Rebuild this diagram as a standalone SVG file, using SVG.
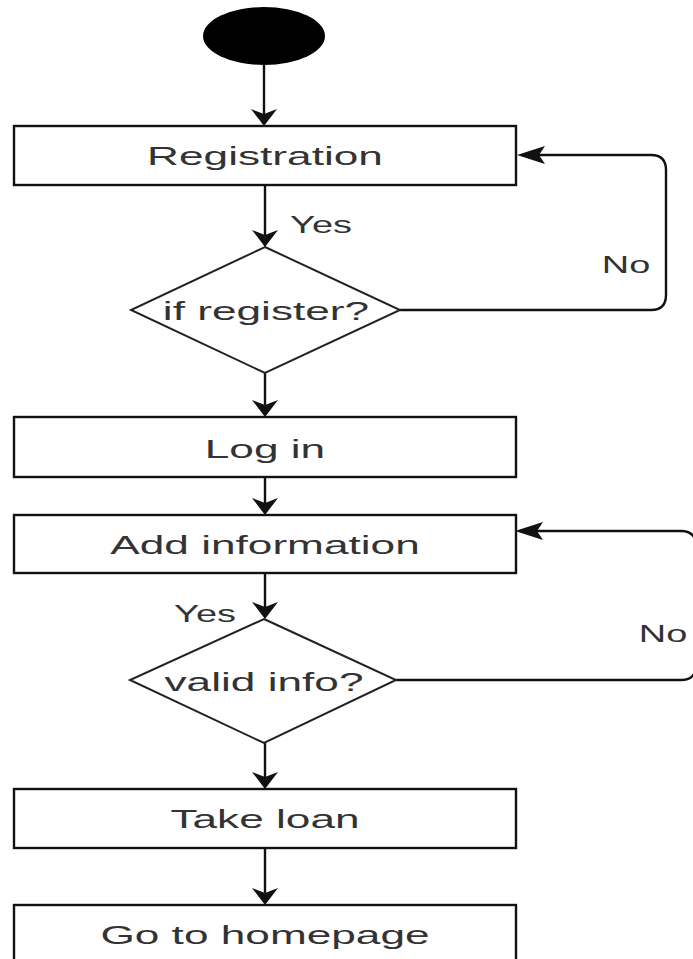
<svg xmlns="http://www.w3.org/2000/svg" xmlns:xlink="http://www.w3.org/1999/xlink" width="693" height="959" viewBox="0 0 693 959">
  <style>
    .box { fill: #ffffff; stroke: #111111; stroke-width: 2.4; }
    .dec { fill: #ffffff; stroke: #222222; stroke-width: 2; }
    .edge { fill: none; stroke: #111111; stroke-width: 2.4; }
    .head { fill: #111111; stroke: none; }
    .t { font-family: "Liberation Sans", Arial, sans-serif; font-size: 26px; fill: #333333; text-anchor: middle; }
    .lbl { font-family: "Liberation Sans", Arial, sans-serif; font-size: 23px; fill: #333333; text-anchor: middle; }
  </style>
  <defs>
    <!-- arrowheads, tip at the origin -->
    <path id="ah-down" class="head" d="M0,0 L-13,-17 L0,-12 L13,-17 Z"/>
    <path id="ah-left" class="head" d="M0,0 L28,-9 L22,0 L28,9 Z"/>
  </defs>

  <rect width="693" height="959" fill="#ffffff"/>

  <!-- connectors -->
  <g id="connectors">
    <path class="edge" d="M264,65 V114"/>
    <use xlink:href="#ah-down" x="264" y="126"/>

    <path class="edge" d="M265,185 V236"/>
    <use xlink:href="#ah-down" x="265" y="247"/>

    <path class="edge" d="M265,373 V406"/>
    <use xlink:href="#ah-down" x="265" y="417"/>

    <path class="edge" d="M265,477 V504"/>
    <use xlink:href="#ah-down" x="265" y="515"/>

    <path class="edge" d="M265,573 V608"/>
    <use xlink:href="#ah-down" x="265" y="619"/>

    <path class="edge" d="M265,743 V778"/>
    <use xlink:href="#ah-down" x="265" y="789"/>

    <path class="edge" d="M265,848 V894"/>
    <use xlink:href="#ah-down" x="265" y="905"/>

    <!-- register? no: back to Registration -->
    <path class="edge" d="M400,310 H651 Q666,310 666,295 V170 Q666,155 651,155 H538"/>
    <use xlink:href="#ah-left" x="517" y="155"/>

    <!-- valid info? no: back to Add information -->
    <path class="edge" d="M396,680 H681 Q696,680 696,665 V546 Q696,531 681,531 H536"/>
    <use xlink:href="#ah-left" x="515" y="531"/>

    <text class="lbl" transform="translate(321,233) scale(1.65,1)">Yes</text>
    <text class="lbl" transform="translate(626,273) scale(1.65,1)">No</text>
    <text class="lbl" transform="translate(205,622) scale(1.65,1)">Yes</text>
    <text class="lbl" transform="translate(663,642) scale(1.65,1)">No</text>
  </g>

  <g id="start">
    <ellipse cx="264" cy="36" rx="61" ry="29" fill="#000000"/>
  </g>

  <g id="registration">
    <rect class="box" x="14" y="126" width="502" height="59"/>
    <text class="t" transform="translate(265,165) scale(1.7,1)">Registration</text>
  </g>

  <g id="if-register">
    <polygon class="dec" points="265,247 400,310 265,373 131,310"/>
    <text class="t" transform="translate(266,320) scale(1.7,1)">if register?</text>
  </g>

  <g id="log-in">
    <rect class="box" x="14" y="417" width="502" height="60"/>
    <text class="t" transform="translate(265,458) scale(1.7,1)">Log in</text>
  </g>

  <g id="add-information">
    <rect class="box" x="14" y="515" width="502" height="58"/>
    <text class="t" transform="translate(265,554) scale(1.7,1)">Add information</text>
  </g>

  <g id="valid-info">
    <polygon class="dec" points="264,619 396,680 264,743 130,680"/>
    <text class="t" transform="translate(264,691) scale(1.7,1)">valid info?</text>
  </g>

  <g id="take-loan">
    <rect class="box" x="14" y="789" width="502" height="59"/>
    <text class="t" transform="translate(265,828) scale(1.7,1)">Take loan</text>
  </g>

  <g id="go-to-homepage">
    <rect class="box" x="14" y="905" width="502" height="60"/>
    <text class="t" transform="translate(265,944) scale(1.7,1)">Go to homepage</text>
  </g>
</svg>
